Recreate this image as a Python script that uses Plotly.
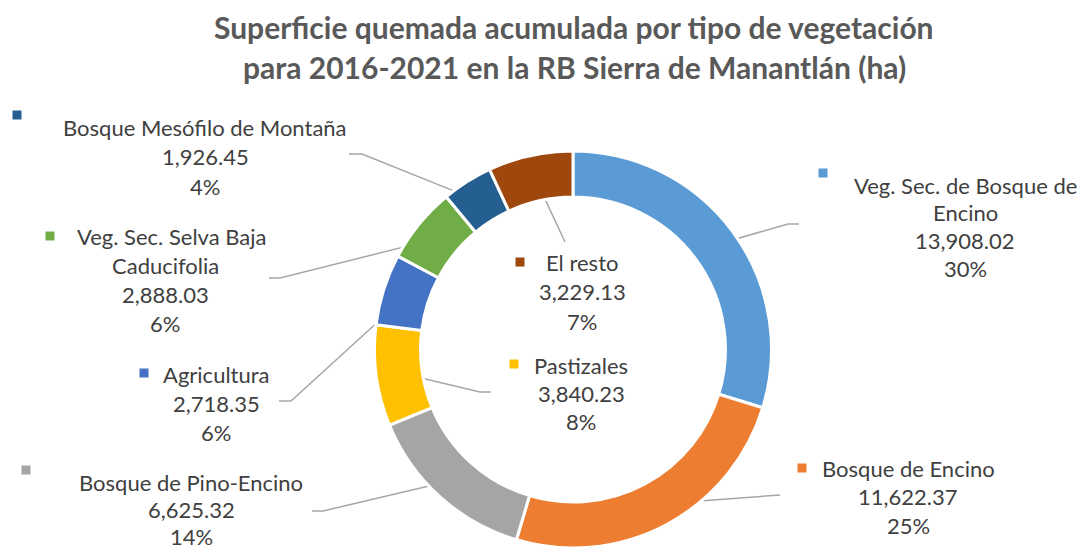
import math
import plotly.graph_objects as go

# --- data -------------------------------------------------------------
categories = [
    "Veg. Sec. de Bosque de Encino",
    "Bosque de Encino",
    "Bosque de Pino-Encino",
    "Pastizales",
    "Agricultura",
    "Veg. Sec. Selva Baja Caducifolia",
    "Bosque Mesófilo de Montaña",
    "El resto",
]
values = [13908.02, 11622.37, 6625.32, 3840.23, 2718.35, 2888.03, 1926.45, 3229.13]
# how each category name is wrapped in its label
label_wrap = [
    ["Veg. Sec. de Bosque de", "Encino"],
    ["Bosque de Encino"],
    ["Bosque de Pino-Encino"],
    ["Pastizales"],
    ["Agricultura"],
    ["Veg. Sec. Selva Baja", "Caducifolia"],
    ["Bosque Mesófilo de Montaña"],
    ["El resto"],
]
title_lines = [
    "Superficie quemada acumulada por tipo de vegetación",
    "para 2016-2021 en la RB Sierra de Manantlán (ha)",
]

# --- style ------------------------------------------------------------
colors = ["#5B9BD5", "#ED7D31", "#A5A5A5", "#FFC000",
          "#4472C4", "#70AD47", "#255E91", "#9E480E"]
W, H = 1080, 550
CX, CY = 573.0, 349.5          # donut centre (px from top-left)
R_OUT = 198.5
HOLE = 0.768
R_MID = R_OUT * (1 + HOLE) / 2
FONT = "Lato"
TXT = "#404040"
LEADER = "#A6A6A6"

# label placement: centre x, first line y, line step, key square (x, y),
# first-line x shift, leader elbow points (px)
placement = [
    dict(cx=965, y=185, step=27.8, key=(823, 173), dx0=0, elbow=[(788, 224), (799, 224)]),
    dict(cx=908, y=468, step=28.5, key=(802, 468), dx0=0, elbow=[(780, 495)]),
    dict(cx=191, y=482, step=27.0, key=(26, 470), dx0=0, elbow=[(323, 511), (312, 511)]),
    dict(cx=581, y=365, step=28.0, key=(514, 364), dx0=0, elbow=[(480, 392), (491, 392)]),
    dict(cx=216, y=374, step=29.0, key=(144, 373), dx0=0, elbow=[(291, 401), (279, 401)]),
    dict(cx=165, y=236, step=29.3, key=(50, 236), dx0=7, elbow=[(280, 278), (269, 278)]),
    dict(cx=205, y=127, step=29.5, key=(17, 115), dx0=0, elbow=[(362, 154), (349, 154)]),
    dict(cx=582, y=262, step=29.5, key=(520, 262), dx0=0, elbow=[(565, 242)]),
]

total = sum(values)

fig = go.Figure()

fig.add_trace(go.Pie(
    labels=categories,
    values=values,
    hole=HOLE,
    sort=False,
    direction="clockwise",
    rotation=0,
    marker=dict(colors=colors, line=dict(color="white", width=3)),
    textinfo="none",
    hoverinfo="label+value+percent",
    showlegend=False,
    domain=dict(
        x=[(CX - R_OUT) / W, (CX + R_OUT) / W],
        y=[(H - CY - R_OUT) / H, (H - CY + R_OUT) / H],
    ),
))

annotations = []
cum = 0.0
for i, (name, v) in enumerate(zip(categories, values)):
    frac = v / total
    mid = (cum + frac / 2) * 2 * math.pi
    cum += frac
    p = placement[i]

    # leader line from the middle of the ring segment to the label
    sx = CX + R_MID * math.sin(mid)
    sy = CY - R_MID * math.cos(mid)
    xs = [sx] + [e[0] for e in p["elbow"]]
    ys = [sy] + [e[1] for e in p["elbow"]]
    fig.add_trace(go.Scatter(
        x=xs, y=ys, mode="lines",
        line=dict(color=LEADER, width=1.5),
        hoverinfo="skip", showlegend=False,
    ))

    # legend key square
    fig.add_trace(go.Scatter(
        x=[p["key"][0]], y=[p["key"][1]], mode="markers",
        marker=dict(symbol="square", size=9, color=colors[i]),
        hoverinfo="skip", showlegend=False,
    ))

    lines = label_wrap[i] + [f"{v:,.2f}", f"{round(frac * 100):.0f}%"]
    for k, line in enumerate(lines):
        annotations.append(dict(
            x=p["cx"] + (p["dx0"] if k == 0 else 0),
            y=p["y"] + k * p["step"],
            xref="x", yref="y", text=line, showarrow=False,
            xanchor="center", yanchor="middle",
            font=dict(family=FONT, size=22, color=TXT),
        ))

for k, t in enumerate(title_lines):
    annotations.append(dict(
        x=574, y=27 + k * 40, xref="x", yref="y",
        text=f"<b>{t}</b>", showarrow=False,
        xanchor="center", yanchor="middle",
        font=dict(family=FONT, size=30, color="#595959"),
    ))

fig.update_layout(
    width=W, height=H,
    margin=dict(l=0, r=0, t=0, b=0),
    paper_bgcolor="white", plot_bgcolor="rgba(0,0,0,0)",
    xaxis=dict(range=[0, W], visible=False, fixedrange=True),
    yaxis=dict(range=[H, 0], visible=False, fixedrange=True),
    annotations=annotations,
    showlegend=False,
)

fig.write_html("out.html")
